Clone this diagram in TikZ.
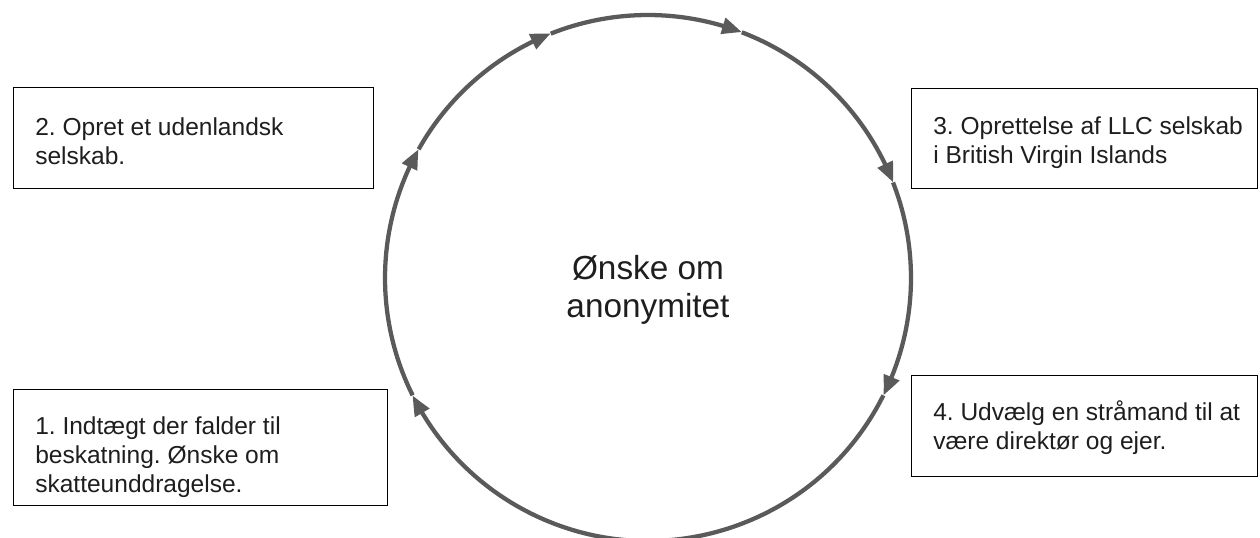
\documentclass[tikz,border=0pt]{standalone}
\usepackage{fontspec}
\setmainfont{Liberation Sans}
\usetikzlibrary{arrows.meta,bending,calc}
\definecolor{ringgray}{HTML}{5A5A5A}
\definecolor{txt}{HTML}{1E1E1E}
\frenchspacing
\tikzset{
  stepbox/.style={draw=black, line width=1.1pt, fill=white},
  steptext/.style={anchor=base west, inner sep=0pt, align=left, text=txt,
    font=\fontsize{18.4pt}{21.8pt}\selectfont\frenchspacing},
  ring/.style={draw=ringgray, line width=3.2pt,
    -{Triangle[length=15pt, width=12pt, bend]}},
}
\begin{document}
\begin{tikzpicture}[x=0.75pt,y=0.75pt]
\useasboundingbox (0,0) rectangle (1260,538);
% circle centre and arrow positions
\coordinate (c) at (648,260);
\coordinate (pA) at ($(c)+(206.5:263)$);
\coordinate (pB) at ($(c)+(150.7:263)$);
\coordinate (pC) at ($(c)+(111.7:263)$);
\coordinate (pD) at ($(c)+(69.1:263)$);
\coordinate (pE) at ($(c)+(21.3:263)$);
\coordinate (pF) at ($(c)+(-26.5:263)$);
\draw[ring] (pF) arc[start angle=-26.5, end angle=-153.5, radius=263];
\draw[ring] (pA) arc[start angle=206.5, end angle=150.7, radius=263];
\draw[ring] (pB) arc[start angle=150.7, end angle=111.7, radius=263];
\draw[ring] (pC) arc[start angle=111.7, end angle=69.1, radius=263];
\draw[ring] (pD) arc[start angle=69.1, end angle=21.3, radius=263];
\draw[ring] (pE) arc[start angle=21.3, end angle=-26.5, radius=263];
% centre text
\node (centre) [inner sep=0pt, align=center, text=txt,
  font=\fontsize{25pt}{29.2pt}\selectfont, anchor=base]
  at (648,220) {Ønske om\\anonymitet};
% boxes
\node (box2) [stepbox, rectangle, minimum width=270pt, minimum height=75.75pt, anchor=north west] at (13,451) {};
\node (box3) [stepbox, rectangle, minimum width=259.5pt, minimum height=75pt, anchor=north west] at (911,450) {};
\node (box1) [stepbox, rectangle, minimum width=280.5pt, minimum height=87pt, anchor=north west] at (13,149) {};
\node (box4) [stepbox, rectangle, minimum width=259.5pt, minimum height=75.75pt, anchor=north west] at (911,163) {};
% texts (base = baseline of last line)
\node (t2) [steptext] at (35,373) {2. Opret et udenlandsk\\selskab.};
\node (t3) [steptext] at (933,374) {3. Oprettelse af LLC selskab\\i British Virgin Islands};
\node (t1) [steptext] at (35,45) {1. Indtægt der falder til\\beskatning. Ønske om\\skatteunddragelse.};
\node (t4) [steptext] at (933,88) {4. Udvælg en stråmand til at\\være direktør og ejer.};
\end{tikzpicture}
\end{document}
